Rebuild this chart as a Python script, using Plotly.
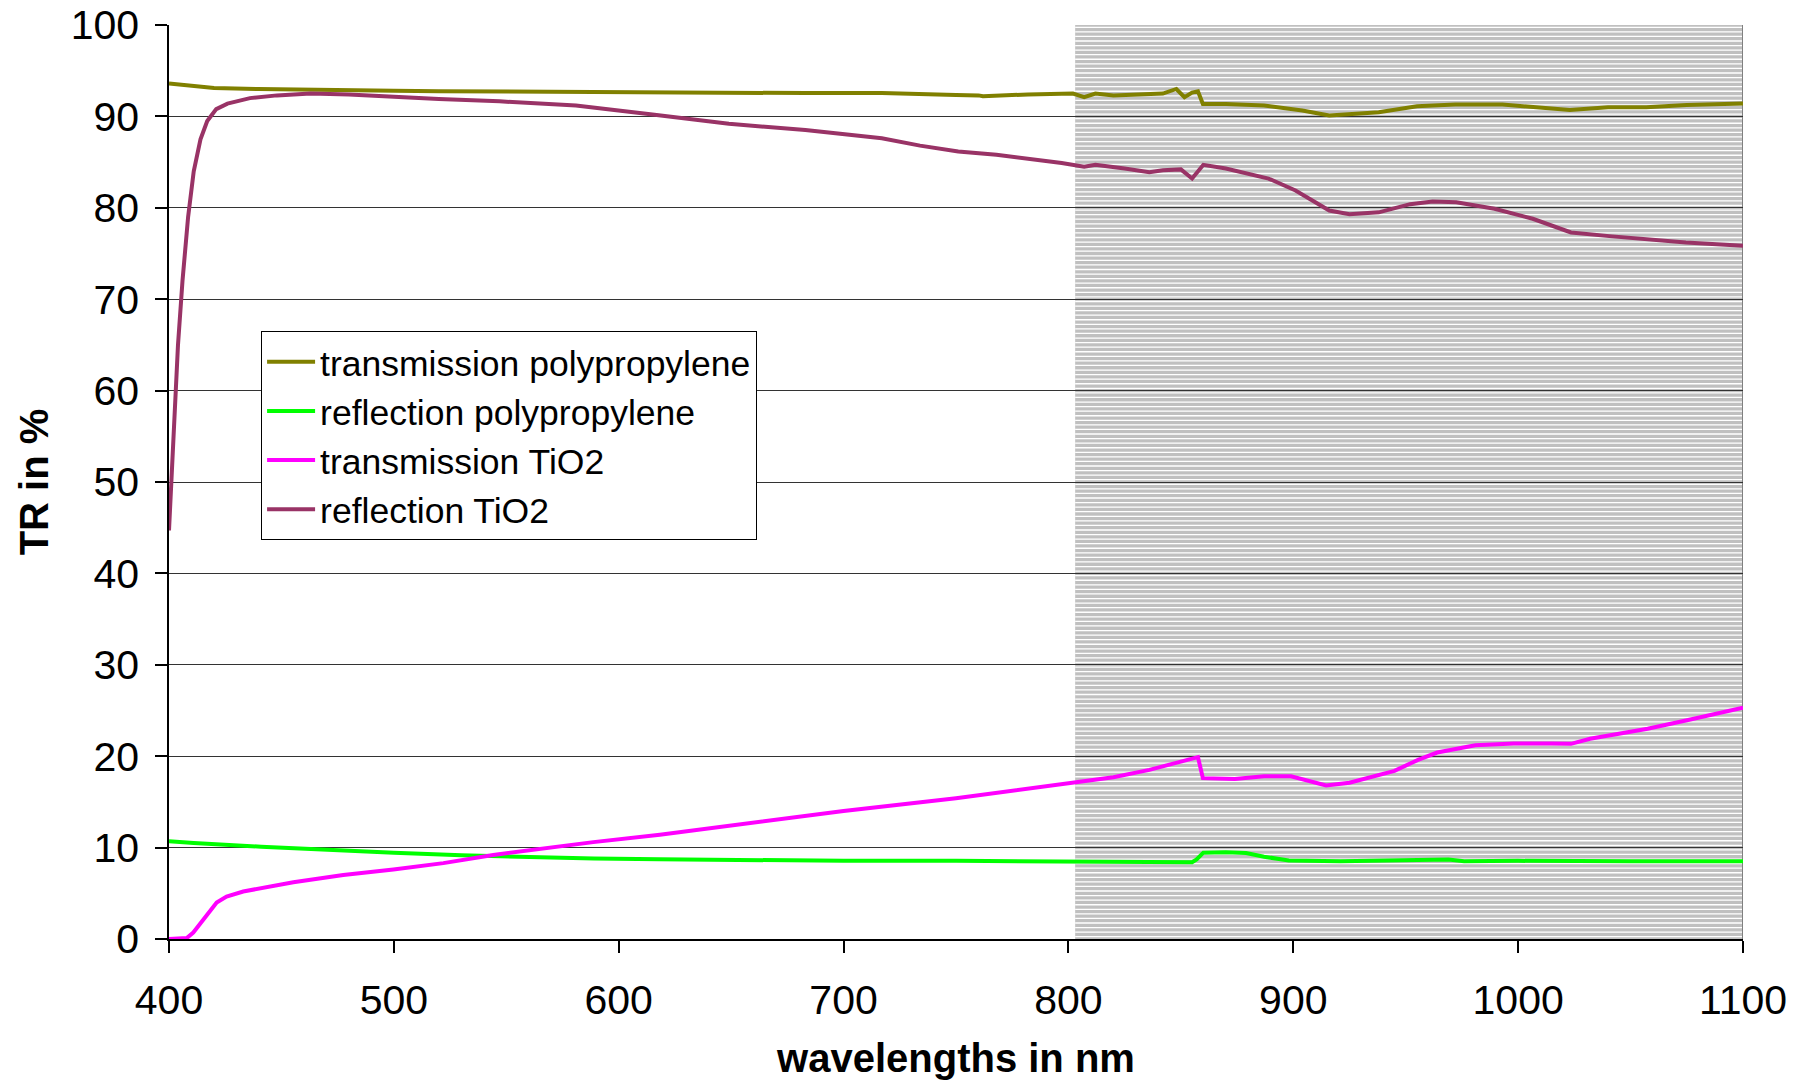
import plotly.graph_objects as go

# ---------------- data ----------------
wl_trans_pp = [400, 410, 420, 440, 460, 480, 500, 520, 547, 580, 615, 650, 683, 717, 734, 750, 760, 762,
               782, 795, 802, 807, 812, 820, 830, 836, 842, 848, 851.6, 855, 857.6, 859.8, 870, 887, 904,
               916, 921, 938, 955, 972, 993, 1006, 1023, 1040, 1057, 1075, 1100]
trans_pp = [93.6, 93.3, 93.1, 93.0, 92.9, 92.9, 92.8, 92.75, 92.7, 92.7, 92.65, 92.6, 92.55, 92.55, 92.4,
            92.35, 92.3, 92.2, 92.4, 92.4, 92.5, 92.1, 92.5, 92.3, 92.4, 92.4, 92.5, 93.0, 92.1, 92.6,
            92.75, 91.35, 91.35, 91.2, 90.65, 90.1, 90.2, 90.45, 91.1, 91.3, 91.3, 91.0, 90.7, 91.0, 91.0,
            91.25, 91.4]

wl_refl_pp = [400, 411, 441, 470, 500, 530, 559, 589, 618, 650, 700, 750, 800, 836, 850, 855, 857, 860,
              870, 879, 887, 898, 921, 969, 976, 1000, 1050, 1100]
refl_pp = [10.7, 10.5, 10.1, 9.75, 9.45, 9.16, 8.95, 8.8, 8.73, 8.65, 8.55, 8.55, 8.5, 8.46, 8.5, 8.4,
           8.7, 9.45, 9.5, 9.4, 9.0, 8.6, 8.5, 8.7, 8.5, 8.55, 8.5, 8.5]

wl_trans_tio2 = [400, 405, 407.9, 410.8, 415.3, 421.2, 425.6, 433, 455.3, 477.5, 499.8, 522, 544.2, 566.5,
                 588.7, 618.3, 650, 700, 750, 800, 820, 836, 843, 850, 857.6, 859.8, 874, 887, 899, 914.6,
                 925, 938, 945, 955.5, 964, 981, 998, 1015, 1023.5, 1032, 1057.6, 1074.6, 1100]
trans_tio2 = [0, 0, 0.1, 0.7, 2.2, 4.0, 4.65, 5.2, 6.2, 7.0, 7.6, 8.3, 9.2, 9.9, 10.6, 11.4, 12.4,
              14.0, 15.4, 17.1, 17.7, 18.5, 18.9, 19.4, 19.9, 17.6, 17.5, 17.8, 17.8, 16.8, 17.1, 17.9,
              18.4, 19.6, 20.4, 21.2, 21.4, 21.4, 21.35, 21.9, 23.0, 23.9, 25.3]

wl_refl_tio2 = [400, 402.5, 404, 406, 408.5, 411, 414, 417, 421, 426, 431, 436, 448, 463, 480, 500,
                520, 547, 581, 615, 649, 683, 717, 734, 751, 768, 785, 797, 807, 812, 825, 836, 842, 850,
                855, 860, 870, 889, 901, 916, 925, 938, 952, 962, 972.5, 989.5, 1006.5, 1023.5, 1040.6,
                1057.6, 1074.6, 1100]
refl_tio2 = [44.7, 58, 65, 72, 79, 84, 87.5, 89.5, 90.8, 91.4, 91.7, 92.0, 92.3, 92.5, 92.4, 92.1,
             91.9, 91.65, 91.2, 90.2, 89.2, 88.5, 87.6, 86.8, 86.15, 85.8, 85.3, 84.9, 84.5, 84.7, 84.3,
             83.9, 84.1, 84.2, 83.2, 84.7, 84.3, 83.2, 81.9, 79.7, 79.3, 79.5, 80.4, 80.7, 80.6, 79.9,
             78.8, 77.3, 76.9, 76.5, 76.2, 75.85]

series_names = ["transmission polypropylene", "reflection polypropylene",
                "transmission TiO2", "reflection TiO2"]
series_colors = ["#808000", "#00FF00", "#FF00FF", "#993366"]

x_ticks = [400, 500, 600, 700, 800, 900, 1000, 1100]
y_ticks = [0, 10, 20, 30, 40, 50, 60, 70, 80, 90, 100]

shade_start = 803   # start of the infrared (shaded) band, nm
shade_end = 1100
stripe_step = 0.5   # spacing of white hatch lines, in % units

# ---------------- figure ----------------
FONT = "Liberation Sans, Arial, sans-serif"
fig = go.Figure()

xs = [wl_trans_pp, wl_refl_pp, wl_trans_tio2, wl_refl_tio2]
ys = [trans_pp, refl_pp, trans_tio2, refl_tio2]
for x, y, name, col in zip(xs, ys, series_names, series_colors):
    fig.add_trace(go.Scatter(x=x, y=y, mode="lines", name=name,
                             line=dict(color=col, width=4)))

# shaded band (grey with white horizontal hatch), drawn beneath gridlines
fig.add_shape(type="rect", xref="x", yref="y", x0=shade_start, x1=shade_end,
              y0=y_ticks[0], y1=y_ticks[-1], fillcolor="#C0C0C0",
              line=dict(width=0), layer="below")
n_stripes = int(round((y_ticks[-1] - y_ticks[0]) / stripe_step))
path = " ".join(
    f"M {shade_start},{y_ticks[0] + stripe_step * (i + 0.5)} L {shade_end},{y_ticks[0] + stripe_step * (i + 0.5)}"
    for i in range(n_stripes))
fig.add_shape(type="path", xref="x", yref="y", path=path,
              line=dict(color="white", width=1.3), layer="below")
# right border of the plot area
fig.add_shape(type="line", xref="x", yref="y", x0=shade_end, x1=shade_end,
              y0=y_ticks[0], y1=y_ticks[-1], line=dict(color="#808080", width=2),
              layer="below")

fig.update_layout(
    width=1800, height=1083,
    margin=dict(l=169, r=57, t=25, b=144, autoexpand=False),
    paper_bgcolor="white", plot_bgcolor="white",
    font=dict(family=FONT, color="black", size=40),
    showlegend=True,
    legend=dict(x=0.0585, y=0.665, xanchor="left", yanchor="top",
                bgcolor="white", bordercolor="black", borderwidth=1,
                font=dict(family=FONT, size=35.5, color="black"),
                tracegroupgap=0, itemwidth=48),
    xaxis=dict(range=[400, 1100], tickvals=x_ticks, ticktext=[str(v) for v in x_ticks],
               automargin=False,
               showgrid=False, zeroline=False, showline=True, linecolor="black", linewidth=1.5,
               ticks="outside", ticklen=12, tickcolor="black", tickwidth=1.5,
               tickfont=dict(family=FONT, size=41, color="black"), ticklabelstandoff=12,
               title=dict(text="<b>wavelengths in nm</b>", standoff=22,
                          font=dict(family=FONT, size=40, color="black"))),
    yaxis=dict(range=[0, 100], tickvals=y_ticks, ticktext=[str(v) for v in y_ticks],
               automargin=False,
               showgrid=True, gridcolor="#333333", gridwidth=1, zeroline=False,
               showline=True, linecolor="black", linewidth=1.5,
               ticks="outside", ticklen=12, tickcolor="black", tickwidth=1.5,
               tickfont=dict(family=FONT, size=41, color="black"), ticklabelstandoff=8,
               title=dict(text="<b>TR in %</b>", standoff=10,
                          font=dict(family=FONT, size=40, color="black"))),
)

fig.write_html("out.html")
